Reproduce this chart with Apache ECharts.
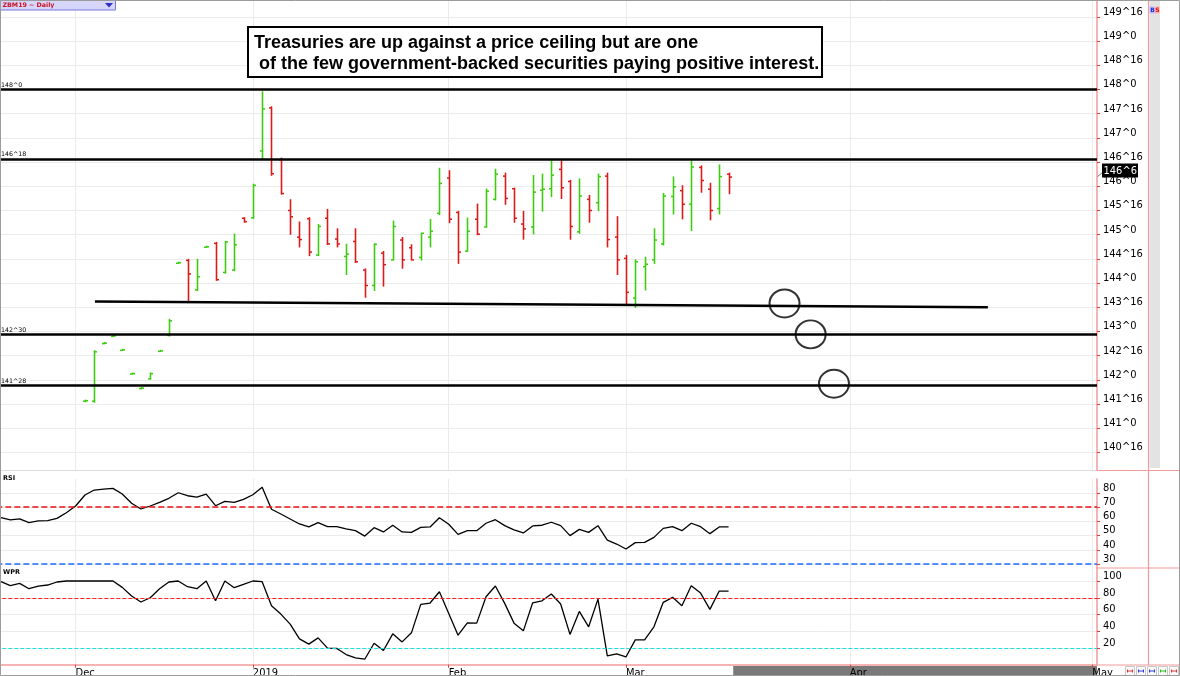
<!DOCTYPE html>
<html><head><meta charset="utf-8">
<script src="https://cdn.jsdelivr.net/npm/echarts@6/dist/echarts.min.js"></script>
<style>html,body{margin:0;padding:0;background:#fff}#c{width:1180px;height:676px}</style>
</head><body><div id="c"></div>
<script>
// ---------------- DATA ----------------
const tradingDates = [
 '2018-11-20','2018-11-21','2018-11-23','2018-11-26','2018-11-27','2018-11-28','2018-11-29','2018-11-30',
 '2018-12-03','2018-12-04','2018-12-06','2018-12-07','2018-12-10','2018-12-11','2018-12-12','2018-12-13','2018-12-14',
 '2018-12-17','2018-12-18','2018-12-19','2018-12-20','2018-12-21','2018-12-24','2018-12-26','2018-12-27','2018-12-28','2018-12-31',
 '2019-01-02','2019-01-03','2019-01-04','2019-01-07','2019-01-08','2019-01-09','2019-01-10','2019-01-11','2019-01-14','2019-01-15',
 '2019-01-16','2019-01-17','2019-01-18','2019-01-22','2019-01-23','2019-01-24','2019-01-25','2019-01-28','2019-01-29','2019-01-30','2019-01-31',
 '2019-02-01','2019-02-04','2019-02-05','2019-02-06','2019-02-07','2019-02-08','2019-02-11','2019-02-12','2019-02-13','2019-02-14','2019-02-15',
 '2019-02-19','2019-02-20','2019-02-21','2019-02-22','2019-02-25','2019-02-26','2019-02-27','2019-02-28',
 '2019-03-01','2019-03-04','2019-03-05','2019-03-06','2019-03-07','2019-03-08','2019-03-11','2019-03-12','2019-03-13','2019-03-14','2019-03-15','2019-03-18'
];
// bars before Dec 4 lie below the visible price range
const opens = [null,null,null,null,null,null,null,null,null,
 141.56,141.56,142.75,142.90,142.61,142.12,141.82,142.02,142.59,142.92,144.41,144.47,143.86,144.74,144.82,144.22,144.27,145.34,
 145.35,146.73,147.62,146.55,145.50,144.95,145.33,144.58,145.34,144.91,144.55,144.86,144.27,143.95,144.62,144.48,144.89,144.73,144.53,144.95,145.44,
 146.17,145.46,144.66,145.32,145.16,145.73,146.21,145.95,145.22,145.16,145.92,145.95,146.35,146.10,145.06,145.73,145.66,146.21,144.95,
 144.51,143.69,144.34,144.48,144.81,145.79,145.91,145.63,146.39,145.94,145.54,146.25];
const highs = [null,null,null,null,null,null,null,null,null,
 141.58,142.60,142.77,142.92,142.63,142.14,141.84,142.14,142.61,143.25,144.43,144.49,144.49,144.76,144.84,144.86,145.01,145.35,
 146.04,147.95,147.64,146.58,145.72,145.26,145.35,145.21,145.52,145.12,144.80,145.12,144.29,144.81,144.65,145.28,144.94,144.79,145.03,145.31,146.37,
 146.32,145.48,145.34,145.63,145.94,146.35,146.27,145.96,145.48,146.22,146.25,146.52,146.52,146.12,146.15,145.81,146.25,146.27,145.37,
 144.57,144.48,144.53,145.12,145.85,146.19,146.01,146.52,146.42,146.06,146.44,146.27];
const lows = [null,null,null,null,null,null,null,null,null,
 141.55,141.54,142.75,142.90,142.61,142.12,141.82,142.02,142.59,142.91,144.41,143.60,143.85,144.74,144.06,144.21,144.26,145.26,
 145.34,146.58,146.23,145.84,145.01,144.75,144.57,144.57,144.80,144.75,144.18,144.43,143.71,143.85,143.94,144.48,144.31,144.48,144.48,144.75,145.42,
 145.25,144.41,144.66,145.00,145.16,145.72,145.63,145.26,144.91,145.02,145.49,145.79,145.75,144.91,145.03,145.26,145.50,144.75,144.18,
 143.57,143.50,143.86,144.41,144.79,145.43,145.33,145.09,145.88,145.31,145.43,145.85];
const closes = [null,null,null,null,null,null,null,null,null,
 141.57,142.58,142.76,142.91,142.62,142.13,141.83,142.13,142.60,143.22,144.42,144.19,144.13,144.75,144.07,144.85,144.79,145.27,
 146.02,147.60,146.26,145.85,145.37,144.90,144.64,145.17,144.81,144.81,144.60,144.44,143.95,144.80,144.38,145.17,144.48,144.48,145.03,145.07,146.06,
 145.32,144.64,145.07,145.01,145.90,146.25,145.75,145.34,145.12,145.88,145.94,146.23,145.97,145.17,145.80,145.50,146.20,144.90,144.48,
 143.81,144.44,144.39,144.89,145.80,145.99,145.63,146.40,146.12,145.50,146.20,146.19];
const rsi = [62.5,60.9,61.6,59.0,60.2,60.4,62.0,66.0,70.7,78.4,81.9,82.6,83.1,79.1,72.6,68.6,70.7,73.3,76.1,80.0,
 77.9,77.0,79.1,70.9,74.0,73.3,75.4,78.6,83.8,68.4,65.1,61.6,58.1,56.0,59.0,56.2,56.2,54.6,53.4,49.6,
 55.5,52.5,57.2,52.5,52.2,55.7,56.0,62.5,57.9,50.8,53.4,53.4,58.6,61.1,56.9,53.9,51.8,56.7,57.2,59.3,
 56.9,49.9,54.3,52.2,56.9,46.8,44.0,40.5,45.0,45.2,48.7,55.0,56.2,53.4,58.6,56.2,51.3,56.0,56.0];
const wpr = [99.2,94.4,97.2,90.8,94.0,95.2,98.8,100,100,100,100,100,100,92.4,82.0,74.9,80.0,90.8,98.8,100,
 93.2,90.8,100,76.4,100,92.0,96.0,100,99.2,70.4,60.5,48.5,30.9,24.6,32.1,19.8,19.4,12.2,8.2,6.6,
 25.7,17.0,36.9,27.3,38.1,72.1,73.7,87.2,61.3,35.3,50.1,49.7,81.2,94.0,73.3,49.7,40.5,74.0,76.4,84.4,
 72.5,36.2,63.7,45.3,78.4,10.5,12.9,9.3,29.7,29.7,45.3,74.5,80.5,70.4,94.4,85.6,66.1,88.0,88.0];
const tickDates  = ['2018-12-03','2019-01-02','2019-02-01','2019-03-01','2019-04-01','2019-05-01'];
const tickLabels = ['Dec','2019','Feb','Mar','Apr','May'];
const priceLevels = [148.0, 146.5625, 142.9375, 141.875];      // 148^0, 146^18, 142^30, 141^28
const trendLine = [[10.07, 143.62], [105.8, 143.50]];          // [bar slot, price]
const circleMarks = [[84.0, 143.58], [86.8, 142.94], [89.3, 141.92]];
const rsiLevels = [70, 30];
const wprLevels = [80, 20];
const title1 = 'Treasuries are up against a price ceiling but are one';
const title2 = ' of the few government-backed securities paying positive interest.';

// future (empty) slots on the time axis
function daySeq(a, b, skipSun) {
  const out = []; const d = new Date(a + 'T00:00:00Z'); const e = new Date(b + 'T00:00:00Z');
  for (; d <= e; d.setUTCDate(d.getUTCDate() + 1)) {
    if (skipSun && d.getUTCDay() === 0) continue;
    out.push(d.toISOString().slice(0, 10));
  }
  return out;
}
const futureDates = daySeq('2019-03-19', '2019-03-30', false).concat(daySeq('2019-04-01', '2019-05-01', true));
const cats = tradingDates.concat(futureDates);

// ---------------- CHART ----------------
const F = '"DejaVu Sans Condensed", "DejaVu Sans"';
const PINK = '#f39a9a', TICKRED = '#e23b3b', GRID = '#ebebeb';
function fmt32(v) { const w = Math.floor(v + 1e-9); return w + '^' + Math.round((v - w) * 32); }
const tickSet = new Set(tickDates);
const labelOf = {}; tickDates.forEach((d, k) => labelOf[d] = tickLabels[k]);
const showTick = (idx, val) => tickSet.has(val);

const ohlcRows = [];
tradingDates.forEach((d, i) => { if (opens[i] != null) ohlcRows.push([d, opens[i], highs[i], lows[i], closes[i]]); });

const gridLeft = -3.67, gridRight = 1097;
const grids = [
  {left: gridLeft, width: gridRight - gridLeft, top: 0, height: 470},
  {left: gridLeft, width: gridRight - gridLeft, top: 479, height: 89},
  {left: gridLeft, width: gridRight - gridLeft, top: 568, height: 96.75}
].map(g => Object.assign(g, {outerBoundsMode: 'none', containLabel: false}));

function xAx(gi, bottom) {
  return {
    type: 'category', gridIndex: gi, data: cats, boundaryGap: true,
    axisLine: {show: bottom, onZero: false, lineStyle: {color: PINK, width: 1.5}},
    axisTick: {show: bottom, interval: showTick, alignWithLabel: true, length: 3, lineStyle: {color: TICKRED}},
    axisLabel: {show: bottom, interval: showTick, formatter: v => labelOf[v] || '', align: 'left', margin: 3,
      fontSize: 11, fontFamily: F, color: '#000'},
    splitLine: {show: true, interval: showTick, alignWithLabel: true, lineStyle: {color: GRID, width: 1}}
  };
}
function yAx(gi, min, max, step, fmt) {
  return {
    type: 'value', gridIndex: gi, position: 'right', min: min, max: max, splitNumber: 20,
    minInterval: step, maxInterval: step,
    axisLine: {show: true, onZero: false, lineStyle: {color: PINK, width: 1.5}},
    axisTick: {show: true, length: 3, lineStyle: {color: TICKRED}},
    axisLabel: {show: true, formatter: fmt, fontSize: 11, fontFamily: F, color: '#000', margin: 6,
      verticalAlign: 'bottom', lineHeight: 10, showMinLabel: false, showMaxLabel: false},
    splitLine: {show: true, showMinLine: false, showMaxLine: false, lineStyle: {color: GRID, width: 1}}
  };
}

const option = {
  animation: false,
  backgroundColor: '#fff',
  grid: grids,
  xAxis: [xAx(0, false), xAx(1, false), xAx(2, true),
    {type: 'value', gridIndex: 0, min: -0.5, max: cats.length - 0.5, show: false, axisLine: {onZero: false}}],
  yAxis: [
    yAx(0, 148 - 380.5 / 48.4, 148 + 89.5 / 48.4, 0.5, v => fmt32(v)),
    yAx(1, 70 - 61 / 1.425, 70 + 28 / 1.425, 10, v => String(Math.round(v))),
    yAx(2, 0, 100 + 13 / 0.8375, 20, v => String(Math.round(v)))
  ],
  series: [
    {
      type: 'custom', name: 'ZBM19', xAxisIndex: 0, yAxisIndex: 0, clip: true,
      dimensions: ['date', 'open', 'high', 'low', 'close'],
      encode: {x: 0, y: [1, 2, 3, 4]},
      data: ohlcRows,
      renderItem: function (params, api) {
        const x = api.value(0), o = api.value(1), h = api.value(2), l = api.value(3), c = api.value(4);
        const pO = api.coord([x, o]), pH = api.coord([x, h]), pL = api.coord([x, l]), pC = api.coord([x, c]);
        const col = c >= o ? '#3ccc10' : '#dc1a1a';
        const xx = Math.round(pH[0]) + 0.5, t = 2.5;
        return {type: 'group', children: [
          {type: 'line', shape: {x1: xx, y1: pH[1] - 0.6, x2: xx, y2: pL[1] + 0.6}, style: {stroke: col, lineWidth: 1.6}},
          {type: 'line', shape: {x1: xx - t, y1: pO[1], x2: xx, y2: pO[1]}, style: {stroke: col, lineWidth: 1.5}},
          {type: 'line', shape: {x1: xx, y1: pC[1], x2: xx + t, y2: pC[1]}, style: {stroke: col, lineWidth: 1.5}}
        ]};
      },
      markLine: {
        silent: true, symbol: 'none', animation: false,
        lineStyle: {color: '#000', width: 2.6, type: 'solid'},
        label: {show: false},
        data: priceLevels.map(v => ({yAxis: v}))
      },
      z: 3
    },
    {
      type: 'line', name: 'trend', xAxisIndex: 3, yAxisIndex: 0, data: trendLine, symbol: 'none',
      lineStyle: {color: '#000', width: 2.4}, silent: true, z: 4
    },
    {
      type: 'scatter', name: 'marks', xAxisIndex: 3, yAxisIndex: 0, data: circleMarks, symbol: 'circle',
      symbolSize: [30, 28], itemStyle: {color: 'rgba(0,0,0,0)', borderColor: '#000', borderWidth: 2}, silent: true, z: 5
    },
    {
      type: 'line', name: 'RSI', xAxisIndex: 1, yAxisIndex: 1, data: rsi, symbol: 'none',
      lineStyle: {color: '#000', width: 1.3}, silent: true,
      markLine: {silent: true, symbol: 'none', label: {show: false},
        data: [{yAxis: rsiLevels[0], lineStyle: {color: '#ee1111', width: 1.6, type: [6, 3]}},
               {yAxis: rsiLevels[1], lineStyle: {color: '#1a6bff', width: 1.6, type: [6, 3]}}]}
    },
    {
      type: 'line', name: 'WPR', xAxisIndex: 2, yAxisIndex: 2, data: wpr, symbol: 'none',
      lineStyle: {color: '#000', width: 1.3}, silent: true,
      markLine: {silent: true, symbol: 'none', label: {show: false},
        data: [{yAxis: wprLevels[0], lineStyle: {color: '#ff2020', width: 1.2, type: [4, 2]}},
               {yAxis: wprLevels[1], lineStyle: {color: '#22dddd', width: 1.2, type: [4, 2]}}]}
    }
  ]
};

const chart = echarts.init(document.getElementById('c'), null, {renderer: 'canvas'});
chart.setOption(option);

// ---------------- DECORATION ----------------
const g = [];
g.push({type: 'line', shape: {x1: 0, y1: 470.5, x2: 1097, y2: 470.5}, style: {stroke: '#dcdcdc', lineWidth: 1}, silent: true});
g.push({type: 'line', shape: {x1: 1097, y1: 470.5, x2: 1180, y2: 470.5}, style: {stroke: PINK, lineWidth: 1.2}, silent: true});
g.push({type: 'line', shape: {x1: 1097, y1: 568, x2: 1180, y2: 568}, style: {stroke: PINK, lineWidth: 1.2}, silent: true});
g.push({type: 'line', shape: {x1: 1097, y1: 665, x2: 1180, y2: 665}, style: {stroke: PINK, lineWidth: 1.2}, silent: true});
g.push({type: 'line', shape: {x1: 1148.5, y1: 0, x2: 1148.5, y2: 665}, style: {stroke: PINK, lineWidth: 1.2}, silent: true});
g.push({type: 'rect', shape: {x: 1149.5, y: 0, width: 10.5, height: 468}, style: {fill: '#e3e3e3'}, silent: true});
g.push({type: 'rect', shape: {x: 1149.5, y: 6.5, width: 5, height: 7}, style: {fill: '#b8b8ff'}, silent: true});
g.push({type: 'rect', shape: {x: 1154.5, y: 6.5, width: 5, height: 7}, style: {fill: '#ffb0b0'}, silent: true});
g.push({type: 'text', x: 1150.3, y: 10, style: {text: 'B', fill: '#2233dd', font: 'bold 6px "DejaVu Sans"', verticalAlign: 'middle'}, silent: true});
g.push({type: 'text', x: 1155.3, y: 10, style: {text: 'S', fill: '#dd1111', font: 'bold 6px "DejaVu Sans"', verticalAlign: 'middle'}, silent: true});
g.push({type: 'rect', shape: {x: 0.5, y: 0.5, width: 115, height: 9.5}, style: {fill: '#d6d6fb', stroke: '#7777d8', lineWidth: 1}, silent: true});
g.push({type: 'text', x: 2.5, y: 5.5, style: {text: 'ZBM19 ~ Daily', fill: '#cc1122', font: 'bold 6.3px "DejaVu Sans"', verticalAlign: 'middle'}, silent: true});
g.push({type: 'polygon', shape: {points: [[105, 3], [113, 3], [109, 7.5]]}, style: {fill: '#3030c8'}, silent: true});
g.push({type: 'text', x: 3, y: 478.5, style: {text: 'RSI', fill: '#000', font: 'bold 6.5px "DejaVu Sans"', verticalAlign: 'middle'}, silent: true});
g.push({type: 'text', x: 3, y: 572.5, style: {text: 'WPR', fill: '#000', font: 'bold 6.5px "DejaVu Sans"', verticalAlign: 'middle'}, silent: true});
g.push({type: 'rect', shape: {x: 248, y: 27, width: 574, height: 50}, style: {fill: '#fff', stroke: '#000', lineWidth: 2}, z: 20, silent: true});
g.push({type: 'text', x: 254, y: 43, z: 21, silent: true,
  style: {text: title1, fill: '#000', font: 'bold 18px "Liberation Sans"', verticalAlign: 'middle'}});
g.push({type: 'text', x: 254, y: 64.5, z: 21, silent: true,
  style: {text: title2, fill: '#000', font: 'bold 18px "Liberation Sans"', verticalAlign: 'middle'}});
priceLevels.forEach(v => {
  const y = chart.convertToPixel({yAxisIndex: 0}, v);
  g.push({type: 'text', x: 1, y: y - 1.5, z: 10, silent: true,
    style: {text: fmt32(v), fill: '#000', font: '6.3px "DejaVu Sans"', verticalAlign: 'bottom'}});
});
const lastClose = closes[closes.length - 1];
const yc = chart.convertToPixel({yAxisIndex: 0}, lastClose);
g.push({type: 'line', shape: {x1: 1097, y1: yc, x2: 1103, y2: yc - 5}, style: {stroke: '#777', lineWidth: 1}, silent: true});
g.push({type: 'rect', shape: {x: 1102, y: yc - 13.5, width: 36, height: 14}, style: {fill: '#000'}, z: 10, silent: true});
g.push({type: 'text', x: 1103.5, y: yc - 6.3, z: 11, silent: true,
  style: {text: fmt32(lastClose), fill: '#fff', font: '11px ' + F, verticalAlign: 'middle'}});
const band = (gridRight - gridLeft) / cats.length;
const xLast = chart.convertToPixel({xAxisIndex: 2}, tradingDates[tradingDates.length - 1]) + band / 2;
g.push({type: 'rect', shape: {x: xLast, y: 666, width: gridRight - xLast, height: 10}, style: {fill: '#7a7a7a'}, z: -1, silent: true});
const btnCols = ['#e03030', '#2a3ad8', '#2a3ad8', '#22bb22', '#e03030'];
btnCols.forEach((c, k) => {
  const x = 1125 + k * 11;
  g.push({type: 'rect', shape: {x: x + 0.5, y: 666.5, width: 9, height: 9}, style: {fill: '#fafafa', stroke: '#c8c8c8', lineWidth: 1}, silent: true});
  g.push({type: 'line', shape: {x1: x + 2.5, y1: 671, x2: x + 7.5, y2: 671}, style: {stroke: c, lineWidth: 1}, silent: true});
  g.push({type: 'line', shape: {x1: x + 2.5, y1: 669.5, x2: x + 2.5, y2: 672.5}, style: {stroke: c, lineWidth: 1}, silent: true});
  g.push({type: 'line', shape: {x1: x + 7.5, y1: 669.5, x2: x + 7.5, y2: 672.5}, style: {stroke: c, lineWidth: 1}, silent: true});
});
g.push({type: 'rect', shape: {x: 0.5, y: 0.5, width: 1179, height: 675}, style: {fill: 'none', stroke: '#9c9c9c', lineWidth: 1}, z: 30, silent: true});
chart.setOption({graphic: g});
</script>
</body></html>
